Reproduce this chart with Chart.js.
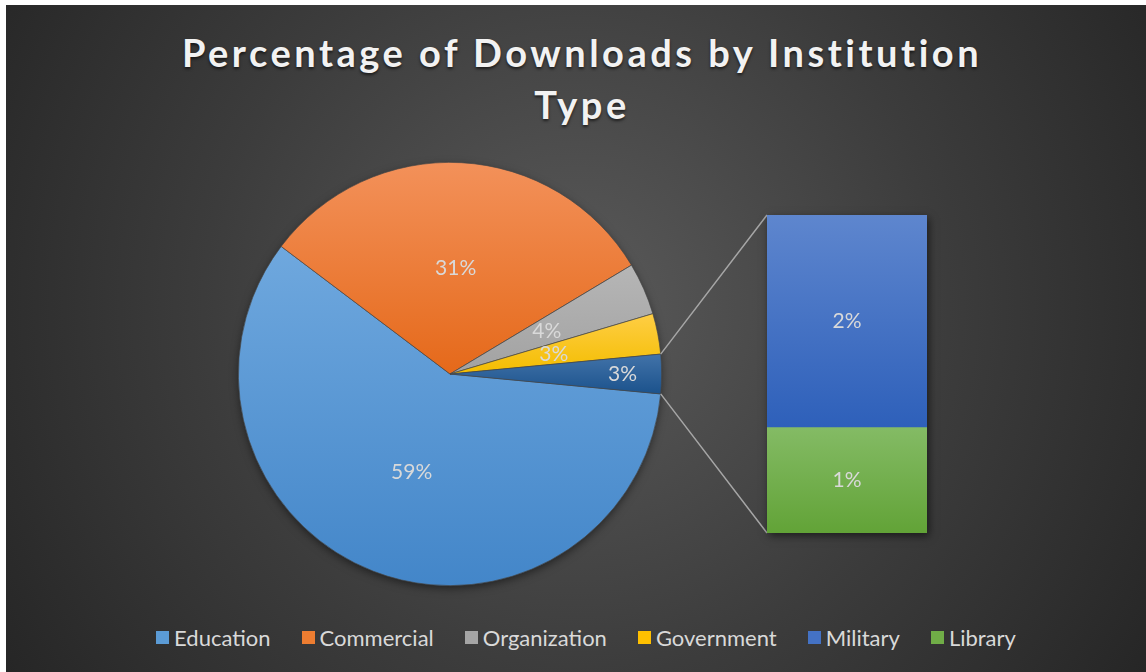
<!DOCTYPE html>
<html>
<head>
<meta charset="utf-8">
<script src="https://cdn.jsdelivr.net/npm/chart.js@4.4.1/dist/chart.umd.min.js"></script>
<style>
  html, body { margin: 0; padding: 0; background: #fff; }
  #frame {
    position: absolute; left: 6px; top: 5px; width: 1140px; height: 667px; overflow: hidden;
    background: radial-gradient(circle farthest-corner at 50% 45%, #5a5a5a 0%, #3c3c3c 55%, #262626 100%);
  }
  #title {
    position: absolute; left: 6px; top: 21px; width: 1140px; text-align: center;
    font: bold 38px Lato, sans-serif; line-height: 52px; letter-spacing: 3.5px; color: #f2f2f2;
    text-shadow: 0 2px 3px rgba(0,0,0,0.6);
  }
  #legend {
    position: absolute; left: 10px; top: 620px; width: 1140px; height: 24px;
    display: flex; justify-content: center; align-items: center; gap: 31px;
    font: 22px Lato, sans-serif; color: #d9d9d9;
  }
  #legend span.item { display: flex; align-items: center; }
  #legend i { display: inline-block; width: 13px; height: 13px; margin-right: 5px; }
  #pie { position: absolute; left: 194px; top: 125px; }
  #bar { position: absolute; left: 634px; top: 195px; }
</style>
</head>
<body>
<div id="frame">
  <div id="title">Percentage of Downloads by Institution<br>Type</div>
  <canvas id="pie" width="500" height="480"></canvas>
  <canvas id="bar" width="310" height="350"></canvas>
  <div id="legend"></div>
</div>
<script>
// pie slices (the last pie slice is the sum of the bar items)
const pieLabels = ['Education', 'Commercial', 'Organization', 'Government'];
const pieValues = [58.8, 31.1, 4.0, 3.1];
// split-out items shown in the stacked bar
const barLabels = ['Military', 'Library'];
const barValues = [2.0, 1.0];
const otherLabel = 'Other';

const legendColors = ['#5b9bd5', '#ed7d31', '#a5a5a5', '#ffc000', '#4472c4', '#70ad47'];
const pieColors = [
  ['#6fa8de', '#4386c9'],
  ['#f3915a', '#e5691a'],
  ['#b6b6b6', '#a2a2a2'],
  ['#ffce45', '#f3bd00'],
  ['#4273a9', '#1b528c']
];
const barColors = [
  ['#5e86ce', '#2e60ba'],
  ['#84bb65', '#62a337']
];

const otherTotal = barValues.reduce((a, b) => a + b, 0);
const pieData = pieValues.concat([otherTotal]);
const grandTotal = pieData.reduce((a, b) => a + b, 0);
// start the first slice just below 3 o'clock so the "Other" slice sits centred on the right
const rotation = 90 + otherTotal / grandTotal * 180;

// legend
const legend = document.getElementById('legend');
pieLabels.concat(barLabels).forEach((name, i) => {
  const s = document.createElement('span');
  s.className = 'item';
  s.innerHTML = '<i style="background:' + legendColors[i] + '"></i>' + name;
  legend.appendChild(s);
});

function pieFill(ctx) {
  const chart = ctx.chart, area = chart.chartArea;
  const c = pieColors[ctx.dataIndex];
  if (!area) return c[0];
  const cx = (area.left + area.right) / 2, cy = (area.top + area.bottom) / 2;
  const r = Math.min(area.right - area.left, area.bottom - area.top) / 2;
  let a0 = (rotation - 90) * Math.PI / 180;
  for (let i = 0; i < ctx.dataIndex; i++) a0 += pieData[i] / grandTotal * 2 * Math.PI;
  const a1 = a0 + pieData[ctx.dataIndex] / grandTotal * 2 * Math.PI;
  let y0 = cy, y1 = cy;
  for (let k = 0; k <= 60; k++) {
    const y = cy + r * Math.sin(a0 + (a1 - a0) * k / 60);
    y0 = Math.min(y0, y); y1 = Math.max(y1, y);
  }
  if (!isFinite(y0) || !isFinite(y1) || y1 <= y0) return c[0];
  const g = chart.ctx.createLinearGradient(0, y0, 0, y1);
  g.addColorStop(0, c[0]);
  g.addColorStop(1, c[1]);
  return g;
}

function barFill(ctx) {
  const chart = ctx.chart, y = chart.scales.y;
  const c = barColors[ctx.datasetIndex];
  if (!y || !chart.chartArea) return c[0];
  let base = 0;
  for (let k = 0; k < ctx.datasetIndex; k++) base += barValues[k];
  const y0 = y.getPixelForValue(base), y1 = y.getPixelForValue(base + barValues[ctx.datasetIndex]);
  if (!isFinite(y0) || !isFinite(y1) || y0 === y1) return c[0];
  const g = chart.ctx.createLinearGradient(0, Math.min(y0, y1), 0, Math.max(y0, y1));
  g.addColorStop(0, c[0]);
  g.addColorStop(1, c[1]);
  return g;
}

// percentage labels on slices and bar segments
const valueLabels = {
  id: 'valueLabels',
  afterDatasetsDraw(chart) {
    const ctx = chart.ctx;
    ctx.save();
    ctx.font = '21px Lato';
    ctx.fillStyle = '#d9d9d9';
    ctx.textAlign = 'center';
    ctx.textBaseline = 'middle';
    chart.data.datasets.forEach((ds, di) => {
      const meta = chart.getDatasetMeta(di);
      meta.data.forEach((el, i) => {
        const txt = Math.round(ds.data[i] / grandTotal * 100) + '%';
        let x, y;
        if (meta.type === 'pie') {
          const mid = (el.startAngle + el.endAngle) / 2;
          const f = i === meta.data.length - 1 ? 0.815 : 0.5;
          x = el.x + Math.cos(mid) * el.outerRadius * f;
          y = el.y + Math.sin(mid) * el.outerRadius * f;
        } else {
          const p = el.getCenterPoint();
          x = p.x; y = p.y;
        }
        ctx.fillText(txt, x, y);
      });
    });
    ctx.restore();
  }
};

// soft drop shadow behind the pie
const pieShadow = {
  id: 'pieShadow',
  beforeDatasetsDraw(chart) {
    const el = chart.getDatasetMeta(0).data[0];
    const ctx = chart.ctx;
    ctx.save();
    ctx.shadowColor = 'rgba(0,0,0,0.55)';
    ctx.shadowBlur = 10;
    ctx.shadowOffsetY = 3;
    ctx.fillStyle = '#444';
    ctx.beginPath();
    ctx.arc(el.x, el.y, el.outerRadius - 1, 0, Math.PI * 2);
    ctx.fill();
    ctx.restore();
  }
};

const pieChart = new Chart(document.getElementById('pie'), {
  type: 'pie',
  data: {
    labels: pieLabels.concat([otherLabel]),
    datasets: [{
      data: pieData,
      backgroundColor: pieFill,
      borderColor: 'rgba(70,70,70,0.9)',
      borderWidth: 0.75
    }]
  },
  options: {
    responsive: false,
    animation: false,
    rotation: rotation,
    layout: { padding: { left: 38, right: 38, top: 32, bottom: 24 } },
    plugins: { legend: { display: false }, tooltip: { enabled: false } }
  },
  plugins: [pieShadow, valueLabels]
});

// shadow behind the bar plus the two connector lines from the pie
const barExtras = {
  id: 'barExtras',
  beforeDatasetsDraw(chart) {
    const ctx = chart.ctx;
    const els = chart.data.datasets.map((d, i) => chart.getDatasetMeta(i).data[0]);
    const left = els[0].x - els[0].width / 2, right = els[0].x + els[0].width / 2;
    const top = Math.min(...els.map(e => Math.min(e.y, e.base)));
    const bottom = Math.max(...els.map(e => Math.max(e.y, e.base)));

    const meta = pieChart.getDatasetMeta(0);
    const arc = meta.data[meta.data.length - 1];
    const pr = pieChart.canvas.getBoundingClientRect(), br = chart.canvas.getBoundingClientRect();
    const dx = pr.left - br.left, dy = pr.top - br.top;
    const r = arc.outerRadius;

    ctx.save();
    ctx.strokeStyle = '#a6a6a6';
    ctx.lineWidth = 1.5;
    ctx.beginPath();
    ctx.moveTo(arc.x + r * Math.cos(arc.startAngle) + dx, arc.y + r * Math.sin(arc.startAngle) + dy);
    ctx.lineTo(left, top);
    ctx.moveTo(arc.x + r * Math.cos(arc.endAngle) + dx, arc.y + r * Math.sin(arc.endAngle) + dy);
    ctx.lineTo(left, bottom);
    ctx.stroke();

    ctx.shadowColor = 'rgba(0,0,0,0.55)';
    ctx.shadowBlur = 8;
    ctx.shadowOffsetX = 2;
    ctx.shadowOffsetY = 3;
    ctx.fillStyle = '#444';
    ctx.fillRect(left, top, right - left, bottom - top);
    ctx.restore();
  }
};

new Chart(document.getElementById('bar'), {
  type: 'bar',
  data: {
    labels: [otherLabel],
    datasets: barLabels.map((name, i) => ({
      label: name,
      data: [barValues[i]],
      backgroundColor: barFill,
      borderWidth: 0,
      barPercentage: 1,
      categoryPercentage: 1
    }))
  },
  options: {
    responsive: false,
    animation: false,
    layout: { padding: { left: 127, top: 15, right: 23, bottom: 17 } },
    scales: {
      x: { display: false, stacked: true },
      y: { display: false, stacked: true, reverse: true, min: 0, max: otherTotal }
    },
    plugins: { legend: { display: false }, tooltip: { enabled: false } }
  },
  plugins: [barExtras, valueLabels]
});
</script>
</body>
</html>
